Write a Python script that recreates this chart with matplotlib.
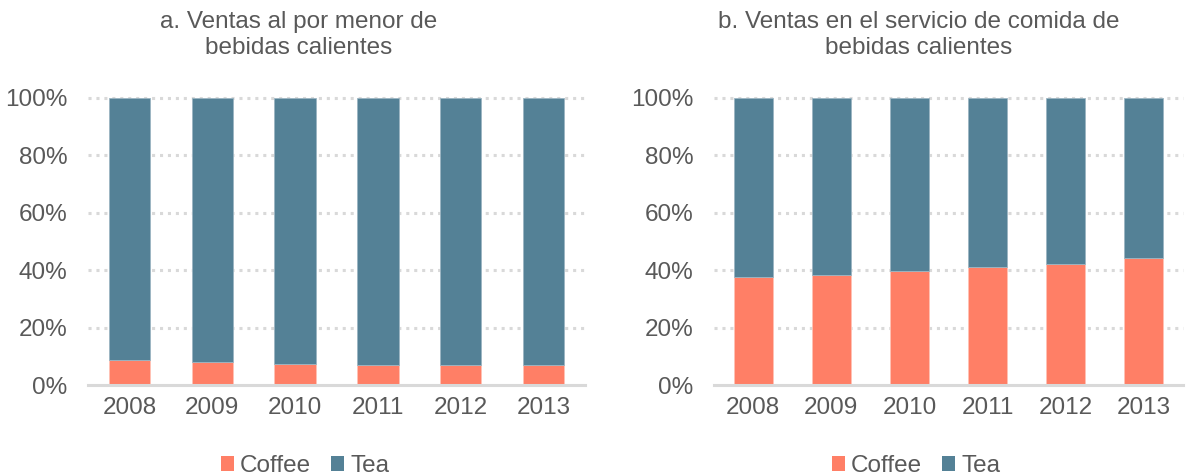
import matplotlib
matplotlib.use("Agg")
import matplotlib.pyplot as plt
from matplotlib.patches import Patch
import numpy as np

years = ["2008", "2009", "2010", "2011", "2012", "2013"]
retail_coffee = [8.7, 8.0, 7.3, 7.1, 7.0, 7.1]
retail_tea = [100 - v for v in retail_coffee]
food_coffee = [37.6, 38.5, 39.6, 41.0, 42.2, 44.1]
food_tea = [100 - v for v in food_coffee]
yticks = [0, 20, 40, 60, 80, 100]
ytick_labels = ["0%", "20%", "40%", "60%", "80%", "100%"]
titles = [["a. Ventas al por menor de", "bebidas calientes"],
          ["b. Ventas en el servicio de comida de", "bebidas calientes"]]
series_names = ["Coffee", "Tea"]

COFFEE = "#FF7F66"
TEA = "#548196"
TXT = "#595959"
GRID = "#D9D9D9"

plt.rcParams['font.family'] = ['Liberation Sans', 'DejaVu Sans']
FS = 17.5

W, H = 1193, 475
fig = plt.figure(figsize=(W / 100, H / 100), dpi=100)

def fx(px):
    return px / W

def fy(py):
    return 1 - py / H

axes_px = [(88, 585), (714, 1183)]
top, bottom = 98, 385
data = [(retail_coffee, retail_tea), (food_coffee, food_tea)]
title_cx = [299, 919]
legend_cx = [305, 916]

for i, ((x0, x1), (coffee, tea)) in enumerate(zip(axes_px, data)):
    ax = fig.add_axes([fx(x0), fy(bottom), fx(x1 - x0), (bottom - top) / H])
    x = np.arange(len(years))
    ax.bar(x, coffee, width=0.5, color=COFFEE, edgecolor="#FFC2B5", linewidth=0.6, zorder=3)
    ax.bar(x, tea, bottom=coffee, width=0.5, color=TEA, edgecolor="#9BB5C2", linewidth=0.6, zorder=3)
    ax.set_xlim(-0.5, len(years) - 0.5)
    ax.set_ylim(0, 100)
    ax.set_yticks(yticks)
    ax.set_yticklabels(ytick_labels)
    ax.set_xticks(x)
    ax.set_xticklabels(years)
    for s in ax.spines.values():
        s.set_visible(False)
    for yv in yticks[1:]:
        ax.axhline(yv, color=GRID, linestyle=(0, (1.0, 1.6)), linewidth=2.2, zorder=1, clip_on=False)
    ax.axhline(0, color=GRID, linewidth=2.2, zorder=4, clip_on=False)
    ax.tick_params(axis='both', length=0, labelsize=FS, colors=TXT)
    ax.tick_params(axis='x', pad=8.5)
    ax.tick_params(axis='y', pad=15)
    for j, line in enumerate(titles[i]):
        fig.text(fx(title_cx[i]), fy(22 + 26 * j), line, ha='center', va='center',
                 fontsize=FS, color=TXT)
    handles = [Patch(facecolor=COFFEE, edgecolor='none'), Patch(facecolor=TEA, edgecolor='none')]
    fig.legend(handles, series_names, loc='center', bbox_to_anchor=(fx(legend_cx[i]), fy(466)),
               ncol=2, frameon=False, fontsize=FS, labelcolor=TXT,
               handlelength=0.55, handleheight=0.55, handletextpad=0.25, columnspacing=0.8,
               borderpad=0, borderaxespad=0)

fig.savefig("out.png", dpi=100, facecolor="white")
